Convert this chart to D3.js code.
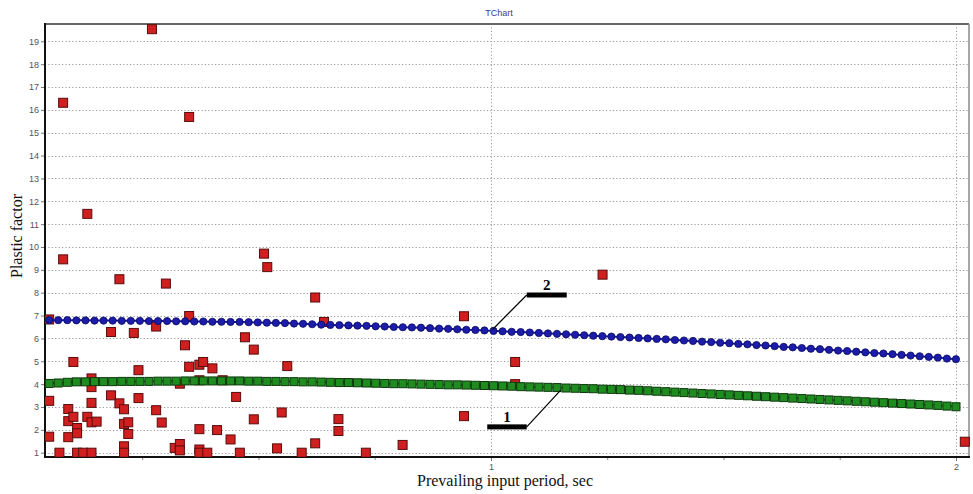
<!DOCTYPE html>
<html><head><meta charset="utf-8">
<script src="https://cdn.jsdelivr.net/npm/d3@7"></script>
<style>
html,body{margin:0;padding:0;background:#fff;}
svg{display:block;}
</style></head>
<body>
<svg id="chart" width="973" height="494"></svg>
<script>
// ---- data ----
const periods = [
0.0500,0.0695,0.0890,0.1085,0.1280,0.1475,0.1670,0.1865,0.2060,0.2255,
0.2450,0.2645,0.2840,0.3035,0.3230,0.3425,0.3620,0.3815,0.4010,0.4205,
0.4400,0.4595,0.4790,0.4985,0.5180,0.5375,0.5570,0.5765,0.5960,0.6155,
0.6350,0.6545,0.6740,0.6935,0.7130,0.7325,0.7520,0.7715,0.7910,0.8105,
0.8300,0.8495,0.8690,0.8885,0.9080,0.9275,0.9470,0.9665,0.9860,1.0055,
1.0250,1.0445,1.0640,1.0835,1.1030,1.1225,1.1420,1.1615,1.1810,1.2005,
1.2200,1.2395,1.2590,1.2785,1.2980,1.3175,1.3370,1.3565,1.3760,1.3955,
1.4150,1.4345,1.4540,1.4735,1.4930,1.5125,1.5320,1.5515,1.5710,1.5905,
1.6100,1.6295,1.6490,1.6685,1.6880,1.7075,1.7270,1.7465,1.7660,1.7855,
1.8050,1.8245,1.8440,1.8635,1.8830,1.9025,1.9220,1.9415,1.9610,1.9805,
2.0000];
const curve2 = [
6.80,6.80,6.80,6.79,6.79,6.78,6.78,6.78,6.77,6.77,
6.77,6.76,6.76,6.76,6.75,6.75,6.74,6.74,6.73,6.73,
6.72,6.72,6.71,6.70,6.69,6.68,6.67,6.65,6.64,6.62,
6.60,6.59,6.58,6.57,6.56,6.55,6.53,6.52,6.50,6.49,
6.48,6.47,6.45,6.43,6.42,6.40,6.38,6.37,6.35,6.33,
6.31,6.29,6.28,6.26,6.24,6.22,6.20,6.18,6.16,6.14,
6.12,6.10,6.08,6.06,6.04,6.02,6.00,5.98,5.96,5.93,
5.91,5.89,5.86,5.84,5.81,5.79,5.76,5.74,5.71,5.69,
5.66,5.63,5.61,5.58,5.55,5.53,5.50,5.47,5.45,5.42,
5.39,5.36,5.34,5.31,5.28,5.25,5.22,5.19,5.16,5.12,
5.09];
const curve1 = [
4.03,4.05,4.08,4.10,4.10,4.11,4.11,4.11,4.12,4.12,
4.12,4.12,4.13,4.13,4.13,4.14,4.14,4.14,4.14,4.14,
4.14,4.14,4.13,4.13,4.12,4.12,4.11,4.11,4.10,4.10,
4.09,4.08,4.07,4.07,4.06,4.05,4.04,4.03,4.02,4.02,
4.01,4.00,3.99,3.98,3.97,3.97,3.96,3.95,3.94,3.93,
3.92,3.91,3.89,3.88,3.87,3.86,3.85,3.83,3.82,3.81,
3.80,3.78,3.77,3.76,3.74,3.73,3.71,3.69,3.67,3.65,
3.63,3.61,3.59,3.57,3.55,3.53,3.51,3.49,3.47,3.45,
3.43,3.41,3.39,3.37,3.35,3.33,3.31,3.29,3.27,3.25,
3.23,3.21,3.19,3.17,3.15,3.13,3.11,3.09,3.07,3.04,
3.01];
const scatterX = [
0.050,0.050,0.050,0.072,0.080,0.080,0.091,0.091,0.091,0.102,0.102,
0.110,0.110,0.110,0.123,0.132,0.132,0.141,0.141,0.141,0.141,0.141,
0.152,0.183,0.183,0.201,0.201,0.211,0.211,0.211,0.211,0.220,0.220,
0.232,0.242,0.242,0.271,0.280,0.280,0.292,0.301,0.320,0.331,0.331,0.331,
0.342,0.351,0.351,0.351,0.373,0.373,0.373,0.373,0.373,0.381,0.390,
0.401,0.411,0.423,0.440,0.452,0.460,0.471,0.490,0.490,0.512,0.519,
0.540,0.550,0.562,0.593,0.622,0.622,0.641,0.672,0.672,0.731,0.810,
0.942,0.942,1.052,1.052,1.240,2.019];
const scatterY = [
6.83,3.27,1.70,1.00,16.31,9.46,2.91,2.38,1.68,4.97,2.57,
2.08,1.85,1.00,1.00,11.45,2.57,1.00,3.18,4.25,3.87,2.33,
2.36,6.28,3.51,8.59,3.16,2.90,2.26,1.28,1.00,2.33,1.82,
6.24,4.61,3.39,19.53,6.52,2.86,2.32,8.40,1.21,4.02,1.38,1.10,
5.70,15.69,6.98,4.76,4.85,4.17,2.03,1.14,1.00,4.97,1.00,
4.69,1.99,4.17,1.58,3.44,1.00,6.05,5.51,2.46,9.71,9.12,
1.19,2.76,4.79,1.00,7.79,1.41,6.72,2.47,1.95,1.00,1.34,
6.97,2.60,4.97,4.00,8.79,1.48];
const yTicks = [1,2,3,4,5,6,7,8,9,10,11,12,13,14,15,16,17,18,19];
const xTicks = [1,2];
const xMinorTicks = [0.25,0.5,0.75,1.25,1.5,1.75];
const callouts = [
  {label:"2", px:1.004, py:6.40, bx0:1.077, bx1:1.163, by:7.90, anchor:"left"},
  {label:"1", px:1.150, py:3.74, bx0:0.992, bx1:1.077, by:2.13, anchor:"right"}
];

// ---- layout ----
const L=45, R=969, T=24, B=457;
const svg = d3.select("#chart");
const x = d3.scaleLinear().domain([0.041, 2.028]).range([L, R]);
const y = d3.scaleLinear().domain([0.812, 19.757]).range([B, T]);

// title
svg.append("text").attr("x", 499).attr("y", 16).attr("text-anchor","middle")
  .attr("font-family","Liberation Sans, Arial, sans-serif").attr("font-size",9)
  .attr("fill","#3a3a90").text("TChart");

// grid
const grid = svg.append("g").attr("stroke","#9a9a9a").attr("stroke-width",1)
  .attr("stroke-dasharray","1.2,2.2");
grid.selectAll("line.h").data(yTicks).join("line").attr("class","h")
  .attr("x1",L).attr("x2",R).attr("y1",d=>Math.round(y(d))+0.5).attr("y2",d=>Math.round(y(d))+0.5);
grid.selectAll("line.v").data(xTicks).join("line").attr("class","v")
  .attr("y1",T).attr("y2",B).attr("x1",d=>Math.round(x(d))+0.5).attr("x2",d=>Math.round(x(d))+0.5);

// frame top/right
svg.append("line").attr("x1",L).attr("x2",R).attr("y1",T).attr("y2",T).attr("stroke","#666").attr("stroke-width",2);
svg.append("line").attr("x1",R).attr("x2",R).attr("y1",T).attr("y2",B).attr("stroke","#888").attr("stroke-width",1.5);

// axes
const yAxis = d3.axisLeft(y).tickValues(yTicks).tickSize(4).tickPadding(2).tickFormat(d3.format("d"));
const gy = svg.append("g").attr("transform",`translate(${L},0)`).call(yAxis);
gy.select(".domain").remove();
gy.selectAll(".tick line").attr("stroke","#777");
gy.selectAll(".tick text").attr("font-family","Liberation Sans, Arial, sans-serif").attr("font-size",9).attr("fill","#555");

const xAxis = d3.axisBottom(x).tickValues(xTicks).tickSize(4).tickPadding(3).tickFormat(d3.format("d"));
const gx = svg.append("g").attr("transform",`translate(0,${B})`).call(xAxis);
gx.select(".domain").remove();
gx.selectAll(".tick line").attr("stroke","#777");
gx.selectAll(".tick text").attr("font-family","Liberation Sans, Arial, sans-serif").attr("font-size",9).attr("fill","#555");
const gxm = svg.append("g").attr("transform",`translate(0,${B})`)
  .call(d3.axisBottom(x).tickValues(xMinorTicks).tickSize(3).tickFormat(""));
gxm.select(".domain").remove();
gxm.selectAll(".tick line").attr("stroke","#888");

svg.append("line").attr("x1",L).attr("x2",L).attr("y1",T-1).attr("y2",B+1).attr("stroke","#111").attr("stroke-width",2);
svg.append("line").attr("x1",L-1).attr("x2",R+1).attr("y1",B).attr("y2",B).attr("stroke","#111").attr("stroke-width",2);

// axis titles
svg.append("text").attr("transform","translate(22,236) rotate(-90)").attr("text-anchor","middle")
  .attr("font-family","Liberation Serif, Times New Roman, serif").attr("font-size",16).attr("fill","#111")
  .text("Plastic factor");
svg.append("text").attr("x",505).attr("y",486).attr("text-anchor","middle")
  .attr("font-family","Liberation Serif, Times New Roman, serif").attr("font-size",16).attr("fill","#111")
  .text("Prevailing input period, sec");

// plot area clip
svg.append("clipPath").attr("id","clip").append("rect").attr("x",L).attr("y",T).attr("width",R-L+6).attr("height",B-T);
const plot = svg.append("g").attr("clip-path","url(#clip)");

// scatter (red squares)
const pts = scatterX.map((v,i)=>({x:v,y:scatterY[i]}));
const rs = 9;
plot.selectAll("rect.sc").data(pts).join("rect").attr("class","sc")
  .attr("x",d=>x(d.x)-rs/2).attr("y",d=>y(d.y)-rs/2).attr("width",rs).attr("height",rs)
  .attr("fill","#cf1f1f").attr("stroke","#5a0c0c").attr("stroke-width",1);

// series 1 (green squares)
const s1 = periods.map((p,i)=>({x:p,y:curve1[i]}));
const line = d3.line().x(d=>x(d.x)).y(d=>y(d.y));
plot.append("path").datum(s1).attr("d",line).attr("fill","none").attr("stroke","#1c7a1c").attr("stroke-width",2);
const gs = 8;
plot.selectAll("rect.g").data(s1).join("rect").attr("class","g")
  .attr("x",d=>x(d.x)-gs/2).attr("y",d=>y(d.y)-gs/2).attr("width",gs).attr("height",gs)
  .attr("fill","#1f8c1f").attr("stroke","#0c3a0c").attr("stroke-width",1);

// series 2 (blue circles)
const s2 = periods.map((p,i)=>({x:p,y:curve2[i]}));
plot.append("path").datum(s2).attr("d",line).attr("fill","none").attr("stroke","#1a1a9c").attr("stroke-width",2);
plot.selectAll("circle.b").data(s2).join("circle").attr("class","b")
  .attr("cx",d=>x(d.x)).attr("cy",d=>y(d.y)).attr("r",3.6)
  .attr("fill","#1c1caa").attr("stroke","#0a0a60").attr("stroke-width",0.8);

// callouts
const cg = svg.append("g");
callouts.forEach(c=>{
  const ex = c.anchor==="left" ? c.bx0 : c.bx1;
  cg.append("line").attr("x1",x(ex)).attr("y1",y(c.by)).attr("x2",x(c.px)).attr("y2",y(c.py))
    .attr("stroke","#000").attr("stroke-width",1.2);
  cg.append("rect").attr("x",x(c.bx0)).attr("y",y(c.by)-2.5).attr("width",x(c.bx1)-x(c.bx0)).attr("height",5)
    .attr("fill","#000");
  cg.append("text").attr("x",(x(c.bx0)+x(c.bx1))/2).attr("y",y(c.by)-4.5).attr("text-anchor","middle")
    .attr("font-family","Liberation Serif, Times New Roman, serif").attr("font-weight","bold").attr("font-size",15)
    .attr("fill","#000").text(c.label);
});
</script>
</body></html>
